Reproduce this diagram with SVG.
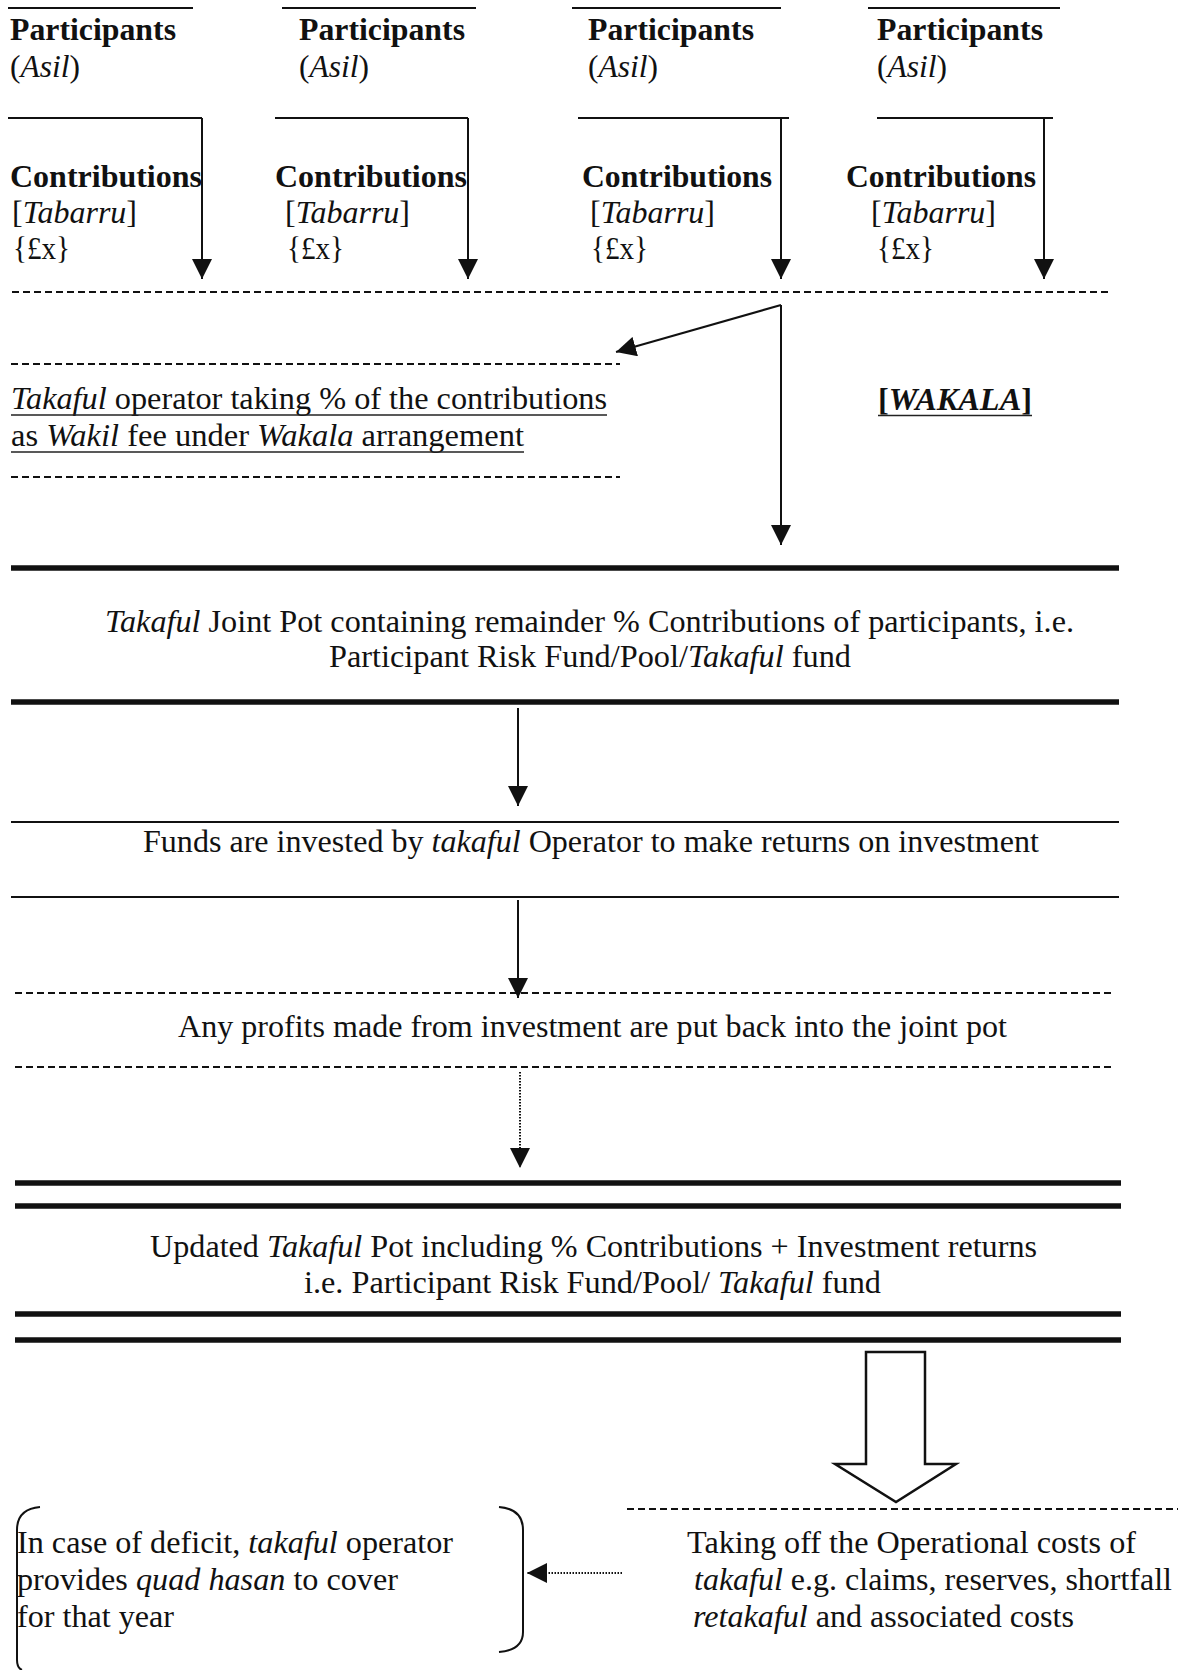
<svg xmlns="http://www.w3.org/2000/svg" width="1178" height="1670" viewBox="0 0 1178 1670">
  <style>
    text { font-family: "Liberation Serif", "Times New Roman", serif; font-size: 32px; fill: #111; }
    .b { font-weight: bold; }
    .i { font-style: italic; }
    .rule { stroke: #111; stroke-width: 2; fill: none; }
    .thick { stroke: #111; stroke-width: 5.5; fill: none; }
    .dash { stroke: #111; stroke-width: 2; stroke-dasharray: 7 4; fill: none; }
    .uline { stroke: #222; stroke-width: 1.5; fill: none; }
    .conn { stroke: #111; stroke-width: 2; fill: none; }
    .dot { stroke: #111; stroke-width: 2; stroke-dasharray: 1.5 1.5; fill: none; }
  </style>
  <defs>
    <marker id="head" markerUnits="userSpaceOnUse" markerWidth="20" markerHeight="20" refX="20" refY="10" orient="auto">
      <path d="M0,0 L20,10 L0,20 Z" fill="#111"/>
    </marker>
  </defs>
  <rect width="1178" height="1670" fill="#fff"/>

  <!-- participant columns -->
  <g id="participant-1">
    <line class="rule" x1="8" y1="8" x2="193" y2="8"/>
    <text class="b" x="10" y="39.5" textLength="166" lengthAdjust="spacingAndGlyphs">Participants</text>
    <text x="10" y="76.5" textLength="70" lengthAdjust="spacingAndGlyphs">(<tspan class="i">Asil</tspan>)</text>
    <line class="rule" x1="8" y1="118" x2="202" y2="118" stroke-width="2.5"/>
    <text class="b" x="10" y="187" textLength="192" lengthAdjust="spacingAndGlyphs">Contributions</text>
    <text x="12" y="223" textLength="125" lengthAdjust="spacingAndGlyphs">[<tspan class="i">Tabarru</tspan>]</text>
    <text x="13" y="258.5" textLength="57" lengthAdjust="spacingAndGlyphs">{£x}</text>
  </g>
  <g id="participant-2">
    <line class="rule" x1="282" y1="8" x2="476" y2="8"/>
    <text class="b" x="299" y="39.5" textLength="166" lengthAdjust="spacingAndGlyphs">Participants</text>
    <text x="299" y="76.5" textLength="70" lengthAdjust="spacingAndGlyphs">(<tspan class="i">Asil</tspan>)</text>
    <line class="rule" x1="275" y1="118" x2="468" y2="118" stroke-width="2.5"/>
    <text class="b" x="275" y="187" textLength="192" lengthAdjust="spacingAndGlyphs">Contributions</text>
    <text x="285" y="223" textLength="125" lengthAdjust="spacingAndGlyphs">[<tspan class="i">Tabarru</tspan>]</text>
    <text x="287" y="258.5" textLength="57" lengthAdjust="spacingAndGlyphs">{£x}</text>
  </g>
  <g id="participant-3">
    <line class="rule" x1="572" y1="8" x2="781" y2="8"/>
    <text class="b" x="588" y="39.5" textLength="166" lengthAdjust="spacingAndGlyphs">Participants</text>
    <text x="588" y="76.5" textLength="70" lengthAdjust="spacingAndGlyphs">(<tspan class="i">Asil</tspan>)</text>
    <line class="rule" x1="578" y1="118" x2="789" y2="118" stroke-width="2.5"/>
    <text class="b" x="582" y="187" textLength="190" lengthAdjust="spacingAndGlyphs">Contributions</text>
    <text x="590" y="223" textLength="125" lengthAdjust="spacingAndGlyphs">[<tspan class="i">Tabarru</tspan>]</text>
    <text x="591" y="258.5" textLength="57" lengthAdjust="spacingAndGlyphs">{£x}</text>
  </g>
  <g id="participant-4">
    <line class="rule" x1="868" y1="8" x2="1060" y2="8"/>
    <text class="b" x="877" y="39.5" textLength="166" lengthAdjust="spacingAndGlyphs">Participants</text>
    <text x="877" y="76.5" textLength="70" lengthAdjust="spacingAndGlyphs">(<tspan class="i">Asil</tspan>)</text>
    <line class="rule" x1="877" y1="118" x2="1053" y2="118" stroke-width="2.5"/>
    <text class="b" x="846" y="187" textLength="190" lengthAdjust="spacingAndGlyphs">Contributions</text>
    <text x="871" y="223" textLength="125" lengthAdjust="spacingAndGlyphs">[<tspan class="i">Tabarru</tspan>]</text>
    <text x="877" y="258.5" textLength="57" lengthAdjust="spacingAndGlyphs">{£x}</text>
  </g>

  <!-- dashed line collecting the contributions -->
  <g id="contribution-pool">
    <line class="dash" x1="12" y1="292" x2="1110" y2="292"/>
  </g>

  <!-- wakil fee box -->
  <g id="wakil-fee">
    <line class="dash" x1="11" y1="364" x2="620" y2="364"/>
    <text x="11" y="409" textLength="596" lengthAdjust="spacingAndGlyphs"><tspan class="i">Takaful</tspan> operator taking % of the contributions</text>
    <line class="uline" x1="11" y1="415" x2="607" y2="415"/>
    <text x="11" y="446" textLength="513" lengthAdjust="spacingAndGlyphs">as <tspan class="i">Wakil</tspan> fee under <tspan class="i">Wakala</tspan> arrangement</text>
    <line class="uline" x1="11" y1="452" x2="524" y2="452"/>
    <line class="dash" x1="11" y1="477" x2="620" y2="477"/>
  </g>

  <g id="wakala-label">
    <text class="b" x="878" y="410" textLength="154" lengthAdjust="spacingAndGlyphs">[<tspan class="i">WAKALA</tspan>]</text>
    <line class="uline" x1="878" y1="415.5" x2="1032" y2="415.5"/>
  </g>

  <!-- joint pot -->
  <g id="joint-pot">
    <line class="thick" x1="11" y1="568" x2="1119" y2="568"/>
    <text x="105" y="632" textLength="969" lengthAdjust="spacingAndGlyphs"><tspan class="i">Takaful</tspan> Joint Pot containing remainder % Contributions of participants, i.e.</text>
    <text x="329" y="667" textLength="522" lengthAdjust="spacingAndGlyphs">Participant Risk Fund/Pool/<tspan class="i">Takaful</tspan> fund</text>
    <line class="thick" x1="11" y1="702" x2="1119" y2="702"/>
  </g>

  <!-- investment -->
  <g id="investment">
    <line class="rule" x1="11" y1="822" x2="1119" y2="822"/>
    <text x="143" y="852" textLength="896" lengthAdjust="spacingAndGlyphs">Funds are invested by <tspan class="i">takaful</tspan> Operator to make returns on investment</text>
    <line class="rule" x1="11" y1="897" x2="1119" y2="897"/>
  </g>

  <!-- profits -->
  <g id="profits">
    <line class="dash" x1="15" y1="993" x2="1112" y2="993"/>
    <text x="178" y="1037" textLength="829" lengthAdjust="spacingAndGlyphs">Any profits made from investment are put back into the joint pot</text>
    <line class="dash" x1="15" y1="1067" x2="1112" y2="1067"/>
  </g>

  <!-- updated pot -->
  <g id="updated-pot">
    <line class="thick" x1="15" y1="1183" x2="1121" y2="1183" stroke-width="5"/>
    <line class="thick" x1="15" y1="1206" x2="1121" y2="1206" stroke-width="5"/>
    <text x="150" y="1257" textLength="887" lengthAdjust="spacingAndGlyphs">Updated <tspan class="i">Takaful</tspan> Pot including % Contributions + Investment returns</text>
    <text x="304" y="1293" textLength="577" lengthAdjust="spacingAndGlyphs">i.e. Participant Risk Fund/Pool/ <tspan class="i">Takaful</tspan> fund</text>
    <line class="thick" x1="15" y1="1314" x2="1121" y2="1314" stroke-width="5"/>
    <line class="thick" x1="15" y1="1340" x2="1121" y2="1340" stroke-width="5"/>
  </g>

  <!-- operational costs -->
  <g id="operational-costs">
    <line class="dash" x1="627" y1="1509" x2="1178" y2="1509"/>
    <text x="687" y="1553" textLength="449" lengthAdjust="spacingAndGlyphs">Taking off the Operational costs of</text>
    <text x="694" y="1590" textLength="478" lengthAdjust="spacingAndGlyphs"><tspan class="i">takaful</tspan> e.g. claims, reserves, shortfall</text>
    <text x="693" y="1627" textLength="381" lengthAdjust="spacingAndGlyphs"><tspan class="i">retakaful</tspan> and associated costs</text>
  </g>

  <!-- deficit cover -->
  <g id="deficit">
    <path class="rule" d="M40,1507 Q17,1509 17,1530 L17,1660 Q17,1668 22,1670"/>
    <text x="17" y="1553" textLength="436" lengthAdjust="spacingAndGlyphs">In case of deficit, <tspan class="i">takaful</tspan> operator</text>
    <text x="17" y="1590" textLength="381" lengthAdjust="spacingAndGlyphs">provides <tspan class="i">quad hasan</tspan> to cover</text>
    <text x="17" y="1627" textLength="157" lengthAdjust="spacingAndGlyphs">for that year</text>
    <path class="rule" d="M499,1507 Q523,1509 523,1530 L523,1632 Q523,1650 499,1652"/>
  </g>

  <!-- connectors -->
  <g id="connectors">
    <line class="conn" x1="202" y1="118" x2="202" y2="279" marker-end="url(#head)"/>
    <line class="conn" x1="468" y1="118" x2="468" y2="279" marker-end="url(#head)"/>
    <line class="conn" x1="781" y1="118" x2="781" y2="279" marker-end="url(#head)"/>
    <line class="conn" x1="1044" y1="118" x2="1044" y2="279" marker-end="url(#head)"/>
    <line class="conn" x1="781" y1="305" x2="781" y2="545" marker-end="url(#head)"/>
    <line class="conn" x1="781" y1="305" x2="616" y2="352" stroke-width="2.5" marker-end="url(#head)"/>
    <line class="conn" x1="518" y1="708" x2="518" y2="806" marker-end="url(#head)"/>
    <line class="conn" x1="518" y1="900" x2="518" y2="998" marker-end="url(#head)"/>
    <line class="dot" x1="520" y1="1072" x2="520" y2="1168" marker-end="url(#head)"/>
    <polygon points="866,1352 925,1352 925,1464 956,1464 896,1502 835,1464 866,1464" fill="#fff" stroke="#111" stroke-width="2.5" stroke-linejoin="miter"/>
    <line class="dot" x1="622" y1="1573" x2="527" y2="1573" marker-end="url(#head)"/>
  </g>
</svg>
